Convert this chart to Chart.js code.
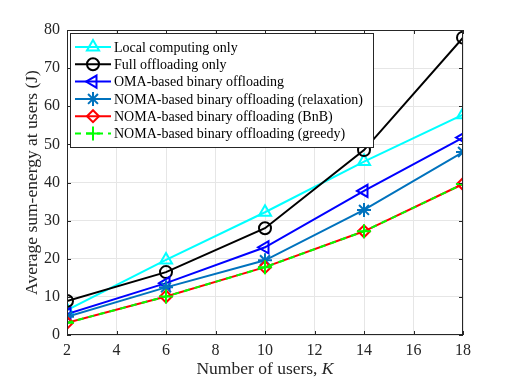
<!DOCTYPE html>
<html>
<head>
<meta charset="utf-8">
<script src="https://cdn.jsdelivr.net/npm/chart.js@4"></script>
<style>
  body { margin: 0; background: #fff; }
  canvas { display: block; }
</style>
</head>
<body>
<canvas id="chart" width="512" height="379"></canvas>
<script>
const users = [2, 6, 10, 14, 18];
const localOnly = [6.5, 19.7, 32.2, 45.5, 57.8];
const fullOffload = [8.9, 16.5, 28, 48.5, 78];
const omaBinary = [5.5, 13.6, 23, 37.8, 51.8];
const nomaRelax = [4.8, 12.5, 19.6, 32.8, 48];
const nomaBnB = [3.2, 10.1, 17.8, 27.2, 39.6];
const nomaGreedy = [3.2, 10.1, 17.8, 27.2, 39.6];
const xTicks = [2, 4, 6, 8, 10, 12, 14, 16, 18];
const yTicks = [0, 10, 20, 30, 40, 50, 60, 70, 80];

const serif = "'Liberation Serif', 'Times New Roman', serif";

function pts(vals) {
    return vals.map((v, i) => ({ x: users[i], y: v }));
}

// later series go on top, like matlab
let drawOrder = 10;
function series(label, vals, color, style, radius, extra) {
    return Object.assign({
        label: label,
        data: pts(vals),
        order: drawOrder--,
        borderColor: color,
        backgroundColor: "transparent",
        borderWidth: 2,
        pointStyle: style,
        pointRadius: radius,
        pointBorderColor: color,
        pointBackgroundColor: "transparent",
        pointBorderWidth: 2,
        tension: 0
    }, extra || {});
}

// inward ticks, top/right box lines, legend box and x title with italic K
const matlabLook = {
    id: "matlabLook",
    afterDraw(chart) {
        const ctx = chart.ctx;
        const a = chart.chartArea;
        const xs = chart.scales.x, ys = chart.scales.y;
        ctx.save();
        ctx.strokeStyle = "#262626";
        ctx.lineWidth = 1;
        ctx.strokeRect(a.left + 0.5, a.top + 0.5, a.right - a.left - 1, a.bottom - a.top - 1);
        ctx.beginPath();
        xTicks.forEach(t => {
            const px = Math.round(xs.getPixelForValue(t)) + 0.5;
            ctx.moveTo(px, a.bottom); ctx.lineTo(px, a.bottom - 4);
            ctx.moveTo(px, a.top); ctx.lineTo(px, a.top + 4);
        });
        yTicks.forEach(t => {
            const py = Math.round(ys.getPixelForValue(t)) + 0.5;
            ctx.moveTo(a.left, py); ctx.lineTo(a.left + 4, py);
            ctx.moveTo(a.right, py); ctx.lineTo(a.right - 4, py);
        });
        ctx.stroke();

        // x axis title
        ctx.fillStyle = "#262626";
        ctx.textBaseline = "middle";
        const t1 = "Number of users, ";
        ctx.font = "17.5px " + serif;
        const w1 = ctx.measureText(t1).width;
        ctx.font = "italic 17.5px " + serif;
        const w2 = ctx.measureText("K").width;
        const cx = (a.left + a.right) / 2;
        let x0 = cx - (w1 + w2) / 2;
        ctx.textAlign = "left";
        ctx.font = "17.5px " + serif;
        ctx.fillText(t1, x0, 369);
        ctx.font = "italic 17.5px " + serif;
        ctx.fillText("K", x0 + w1, 369);

        // legend
        const lx = 70, ly = 33, lw = 303, lh = 114;
        ctx.fillStyle = "#fff";
        ctx.fillRect(lx, ly, lw, lh);
        ctx.strokeStyle = "#262626";
        ctx.strokeRect(lx + 0.5, ly + 0.5, lw, lh);
        chart.data.datasets.forEach((ds, i) => {
            const y = ly + 14 + i * 17.3;
            ctx.strokeStyle = ds.borderColor;
            ctx.lineWidth = ds.borderWidth;
            ctx.setLineDash(ds.borderDash || []);
            ctx.beginPath();
            ctx.moveTo(75, y); ctx.lineTo(111, y);
            ctx.stroke();
            ctx.setLineDash([]);
            ctx.fillStyle = "transparent";
            ctx.lineWidth = ds.pointBorderWidth;
            Chart.helpers.drawPoint(ctx, {
                pointStyle: ds.pointStyle,
                rotation: ds.pointRotation || 0,
                radius: ds.pointRadius,
                borderWidth: ds.pointBorderWidth
            }, 93, y);
            ctx.fillStyle = "#000";
            ctx.font = "14px " + serif;
            ctx.textAlign = "left";
            ctx.fillText(ds.label, 114, y + 1);
        });
        ctx.restore();
    }
};

new Chart(document.getElementById("chart"), {
    type: "line",
    data: {
        datasets: [
            series("Local computing only", localOnly, "#00ffff", "triangle", 7),
            series("Full offloading only", fullOffload, "#000000", "circle", 6),
            series("OMA-based binary offloading", omaBinary, "#0000ff", "triangle", 7, { pointRotation: -90 }),
            series("NOMA-based binary offloading (relaxation)", nomaRelax, "#0072bd", "star", 7),
            series("NOMA-based binary offloading (BnB)", nomaBnB, "#ff0000", "rectRot", 6),
            series("NOMA-based binary offloading (greedy)", nomaGreedy, "#00ff00", "cross", 7, { borderDash: [6, 5] })
        ]
    },
    options: {
        responsive: false,
        animation: false,
        layout: { padding: { left: 18, top: 30, right: 49, bottom: 0 } },
        plugins: {
            legend: { display: false },
            tooltip: { enabled: false }
        },
        scales: {
            x: {
                type: "linear",
                min: 2,
                max: 18,
                afterBuildTicks: s => { s.ticks = xTicks.map(v => ({ value: v })); },
                afterFit: s => { s.height = 44; },
                grid: { color: "#e6e6e6", drawTicks: false },
                border: { display: false },
                ticks: { padding: 6, color: "#262626", font: { family: serif, size: 16 }, maxRotation: 0 },
                title: { display: false }
            },
            y: {
                min: 0,
                max: 80,
                afterBuildTicks: s => { s.ticks = yTicks.map(v => ({ value: v })); },
                afterFit: s => { s.width = 49; },
                grid: { color: "#e6e6e6", drawTicks: false },
                border: { display: false },
                ticks: { padding: 7, color: "#262626", font: { family: serif, size: 16 } },
                title: {
                    display: true,
                    text: "Average sum-energy at users (J)",
                    color: "#262626",
                    font: { family: serif, size: 17.5 },
                    padding: { top: 4, bottom: 0 }
                }
            }
        }
    },
    plugins: [matlabLook]
});
</script>
</body>
</html>
